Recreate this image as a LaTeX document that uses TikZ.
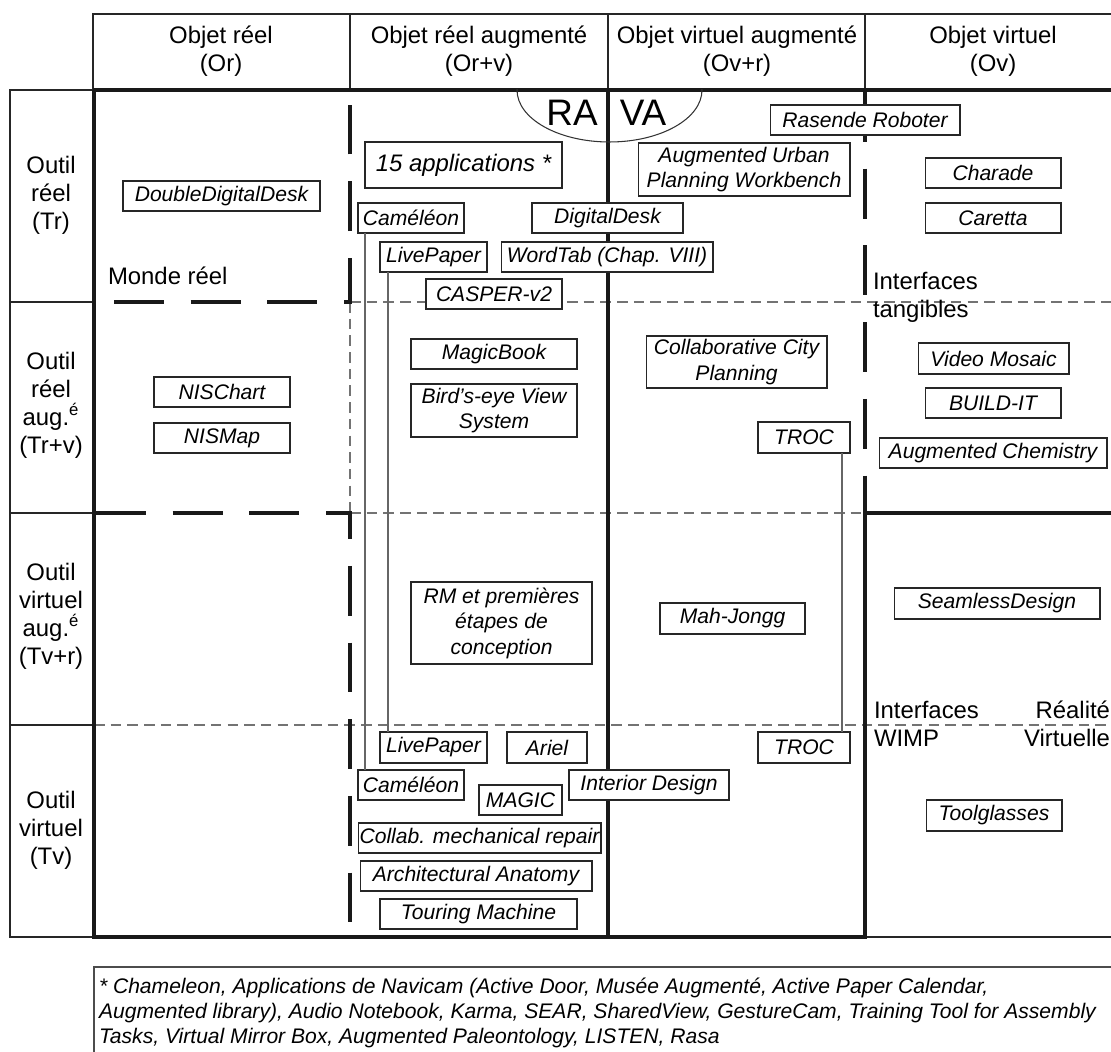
\documentclass[tikz,border=0pt]{standalone}
\usepackage{fontspec}
\setmainfont{Liberation Sans}
\begin{document}
\begin{tikzpicture}[x=0.02cm,y=-0.02cm,
  every node/.style={inner sep=0pt, outer sep=0pt},
  item/.style={draw=black!85, fill=white, line width=0.6pt, inner sep=0pt, font=\fontsize{12}{14.5}\selectfont\itshape, align=center},
  bigitem/.style={item, font=\fontsize{13.6}{16}\selectfont\itshape},
  sz/.style 2 args={minimum width=#1cm, minimum height=#2cm},
  hdr/.style={font=\fontsize{13.6}{15.9}\selectfont, align=center},
  thickl/.style={line width=2.3pt, black!90},
  bigdash/.style={line width=2.3pt, black!90, dash pattern=on 28.35pt off 15.31pt},
  thinl/.style={line width=0.8pt, black!85},
  thindash/.style={line width=0.6pt, black!55, dash pattern=on 6pt off 3.5pt},
  conn/.style={line width=0.6pt, black!60}]
\useasboundingbox (0,0) rectangle (1111,1051);
\clip (0,0) rectangle (1111,1051);

% header frame
\draw[thinl] (1120,14) -- (93,14) -- (93,90);
\draw[thinl] (350,14) -- (350,90);
\draw[thinl] (608,14) -- (608,90);
\draw[thinl] (865,14) -- (865,90);
% left label frame
\draw[thinl] (93,90) -- (10,90) -- (10,937) -- (94,937);
\draw[thinl] (10,302) -- (94,302);
\draw[thinl] (10,513) -- (94,513);
\draw[thinl] (10,725) -- (94,725);
\draw[thinl] (865,937) -- (1120,937);

% thin dashed
\draw[thindash] (350,302) -- (1120,302);
\draw[thindash] (350,302) -- (350,513);
\draw[thindash] (350,513) -- (865,513);
\draw[thindash] (94,725) -- (1120,725);

% thick lines
\draw[thickl] (93,90) -- (1120,90);
\draw[thickl] (94,90) -- (94,937) -- (865,937) -- (865,513) -- (1120,513);
\draw[thickl] (608,90) -- (608,937);
\draw[bigdash] (114,302) -- (350,302) -- (350,103);
\draw[bigdash] (96,513) -- (350,513) -- (350,937);
\draw[bigdash] (865,92) -- (865,513);

% RA / VA ellipse
\begin{scope}
\clip (480,90) rectangle (740,160);
\draw[line width=0.6pt, black!80] (609.5,90) ellipse [x radius=1.85cm, y radius=1.04cm];
\end{scope}
\node[font=\fontsize{21}{24}\selectfont] (ra) at (572,113) {RA};
\node[font=\fontsize{21}{24}\selectfont] (va) at (643,113) {VA};

% headers
\node[hdr] (h1) at (221,51) {Objet réel\\(Or)};
\node[hdr] (h2) at (479,51) {Objet réel augmenté\\(Or+v)};
\node[hdr] (h3) at (737,51) {Objet virtuel augmenté\\(Ov+r)};
\node[hdr] (h4) at (993,51) {Objet virtuel\\(Ov)};

% row labels
\node[hdr] (r1) at (51,195) {Outil\\réel\\(Tr)};
\node[hdr] (r2) at (51,405) {Outil\\réel\\aug.\textsuperscript{é}\\(Tr+v)};
\node[hdr] (r3) at (51,616) {Outil\\virtuel\\aug.\textsuperscript{é}\\(Tv+r)};
\node[hdr] (r4) at (51,830) {Outil\\virtuel\\(Tv)};

% region labels
\node[hdr, anchor=west] (monde) at (108,276) {Monde réel};
\node[hdr, anchor=west, align=left] (tang) at (873,297) {Interfaces\\tangibles};
\node[hdr, anchor=west, align=left] (wimp) at (874,724) {Interfaces\\WIMP};
\node[hdr, anchor=east, align=right] (rv) at (1110,724) {Réalité\\Virtuelle};

% items
\node[item, sz={3.94}{0.6}] (ddd) at (221.5,196) {DoubleDigitalDesk};
\node[bigitem, sz={3.94}{0.92}] (apps) at (463.5,165) {15 applications *};
\node[item, sz={2.12}{0.6}] (cam1) at (411,218) {Caméléon};
\node[item, sz={3.02}{0.6}] (dd) at (607.5,218) {DigitalDesk};
\node[item, sz={2.14}{0.6}] (lp1) at (433.5,257) {LivePaper};
\node[item, sz={4.24}{0.6}] (wt) at (607,257) {WordTab (Chap. VIII)};
\node[item, sz={2.72}{0.6}] (casper) at (494,294) {CASPER-v2};
\node[item, sz={4.24}{1.06}] (aup) at (744,169.5) {Augmented Urban\\Planning Workbench};
\node[item, sz={3.8}{0.6}] (rr) at (865,120) {Rasende Roboter};
\node[item, sz={2.72}{0.6}] (charade) at (993,173) {Charade};
\node[item, sz={2.72}{0.6}] (caretta) at (993,218) {Caretta};
\node[item, sz={2.72}{0.6}] (nisc) at (222,392) {NISChart};
\node[item, sz={2.72}{0.6}] (nism) at (222,438) {NISMap};
\node[item, sz={3.32}{0.6}] (mb) at (494,354) {MagicBook};
\node[item, sz={3.32}{1.06}] (bev) at (494,410.5) {Bird’s-eye View\\System};
\node[item, sz={3.62}{1.04}] (ccp) at (736.5,362) {Collaborative City\\Planning};
\node[item, sz={1.84}{0.62}] (troc1) at (804,437.5) {TROC};
\node[item, sz={3.02}{0.62}] (vm) at (993.5,358.5) {Video Mosaic};
\node[item, sz={2.72}{0.6}] (build) at (993,403) {BUILD-IT};
\node[item, sz={4.56}{0.6}] (chem) at (993,453) {Augmented Chemistry};
\node[item, sz={3.62}{1.64}] (rm) at (501.5,623) {RM et premières\\étapes de\\conception};
\node[item, sz={2.9}{0.62}] (mj) at (732.5,618.5) {Mah-Jongg};
\node[item, sz={4.12}{0.62}] (sd) at (997,603.5) {SeamlessDesign};
\node[item, sz={2.14}{0.62}] (lp2) at (433.5,747.5) {LivePaper};
\node[item, sz={1.6}{0.62}] (ariel) at (547,747.5) {Ariel};
\node[item, sz={1.84}{0.62}] (troc2) at (804,747.5) {TROC};
\node[item, sz={2.12}{0.6}] (cam2) at (411,785) {Caméléon};
\node[item, sz={1.66}{0.6}] (magic) at (520.5,800) {MAGIC};
\node[item, sz={3.2}{0.6}] (interior) at (649,785) {Interior Design};
\node[item, sz={4.86}{0.6}] (collab) at (479.5,838) {Collab. mechanical repair};
\node[item, sz={4.64}{0.6}] (archi) at (476,876) {Architectural Anatomy};
\node[item, sz={3.94}{0.6}] (touring) at (478.5,914) {Touring Machine};
\node[item, sz={2.72}{0.62}] (tool) at (994,815.5) {Toolglasses};

% connectors
\draw[conn] ([xshift=0.14cm]cam1.south west) -- ([xshift=0.14cm]cam2.north west);
\draw[conn] ([xshift=0.16cm]lp1.south west) -- ([xshift=0.16cm]lp2.north west);
\draw[conn] ([xshift=-0.16cm]troc1.south east) -- ([xshift=-0.16cm]troc2.north east);

% footnote
\draw[line width=0.6pt, black!70] (94,967) rectangle (1130,1070);
\node[anchor=north west, align=left, font=\fontsize{12}{14.2}\selectfont\itshape] (foot) at (99,978)
 {* Chameleon, Applications de Navicam (Active Door, Musée Augmenté, Active Paper Calendar,\\
  Augmented library), Audio Notebook, Karma, SEAR, SharedView, GestureCam, Training Tool for Assembly\\
  Tasks, Virtual Mirror Box, Augmented Paleontology, LISTEN, Rasa};
\end{tikzpicture}
\end{document}
